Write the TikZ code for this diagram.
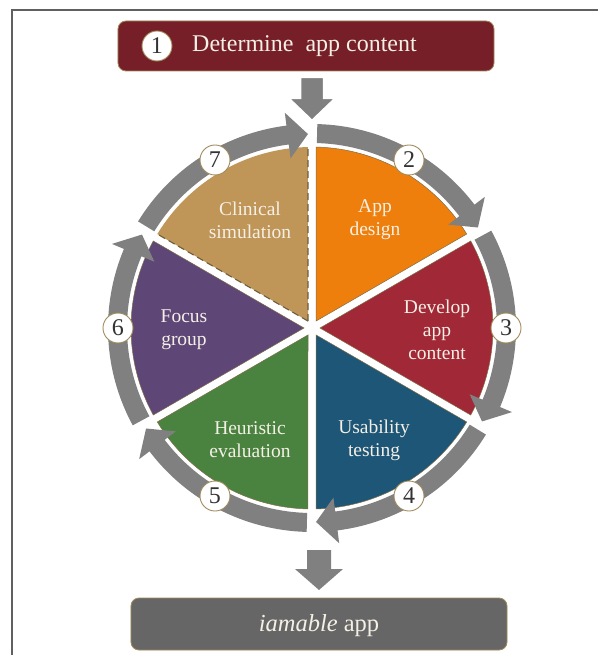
\documentclass[tikz,border=0pt]{standalone}
\usepackage{fontspec}
\setmainfont{Liberation Serif}
\begin{document}
\definecolor{ringgray}{HTML}{808080}
\definecolor{boxred}{HTML}{761F28}
\definecolor{boxgray}{HTML}{666666}
\definecolor{edgetan}{HTML}{A08A5A}
\definecolor{wOrange}{HTML}{EE7F0C}
\definecolor{wRed}{HTML}{A12836}
\definecolor{wBlue}{HTML}{1D5677}
\definecolor{wGreen}{HTML}{4A8340}
\definecolor{wPurple}{HTML}{5E4677}
\definecolor{wTan}{HTML}{C09558}
\definecolor{dashcol}{HTML}{6B5E3E}
\definecolor{labelcol}{HTML}{F5F0E6}
\definecolor{framecol}{HTML}{606060}
% ring arrow: start angle #1, tip angle #2 (clockwise)
\newcommand{\ringarrow}[2]{%
  \pgfmathsetmacro{\hd}{#2+6}%
  \fill[ringgray] (#1:204pt) arc[start angle=#1, end angle=\hd, radius=204pt]
    -- (\hd:217pt) -- (#2:194pt) -- (\hd:171pt) -- (\hd:185pt)
    arc[start angle=\hd, end angle=#1, radius=185pt] -- cycle;}
% wedge between spoke angles #1 (upper) and #2 (lower)
\newcommand{\wedgepath}[2]{%
  ({(#1+#2)/2}:8pt) -- ({#1-1.27}:181pt)
  arc[start angle={#1-1.27}, end angle={#2+1.27}, radius=181pt] -- cycle}
\begin{tikzpicture}[x=1pt,y=1pt,
  wedge/.style={draw=edgetan!80!black, line width=0.5pt},
  numcirc/.style={circle, fill=white, draw=edgetan, line width=0.9pt,
    minimum size=30pt, inner sep=0pt, text=black!80,
    font=\fontsize{24}{24}\selectfont},
  wlabel/.style={align=center, text=labelcol,
    font=\fontsize{19.5}{23}\selectfont},
  blockbox/.style={rounded corners=8pt, draw=edgetan, line width=0.8pt,
    minimum width=376pt, inner sep=0pt}]
\useasboundingbox (-312,-327) rectangle (286,328);
% outer frame
\draw[framecol, line width=1.5pt] (-300,-327) -- (-300,318) -- (286,318);

% wedges
\fill[wOrange, wedge] \wedgepath{90}{30};
\fill[wRed, wedge] \wedgepath{30}{-30};
\fill[wBlue, wedge] \wedgepath{-30}{-90};
\fill[wGreen, wedge] \wedgepath{-90}{-150};
\fill[wPurple, wedge] \wedgepath{-150}{-210};
\fill[wTan] \wedgepath{150}{90};
\draw[dashcol, line width=1.1pt, dash pattern=on 7pt off 4pt]
  (120:8pt) -- (148.73:181pt) (120:8pt) -- (91.27:181pt);

% ring arrows
\ringarrow{88.5}{31.2}
\ringarrow{28.5}{-28.8}
\ringarrow{-31.5}{-88.8}
\ringarrow{-91.5}{-148.8}
\ringarrow{-151.5}{-208.8}
\ringarrow{-211.5}{-268.8}

% step numbers
\node[numcirc] (n2) at (60:194pt) {2};
\node[numcirc] (n3) at (0:194pt) {3};
\node[numcirc] (n4) at (-60:194pt) {4};
\node[numcirc] (n5) at (-120:194pt) {5};
\node[numcirc] (n6) at (180:194pt) {6};
\node[numcirc] (n7) at (120:194pt) {7};

% wedge labels
\node[wlabel] (clin) at (-62,108) {Clinical\\simulation};
\node[wlabel] (design) at (63,108) {App\\design};
\node[wlabel] (develop) at (125,-2) {Develop\\app\\content};
\node[wlabel] (usab) at (62,-112) {Usability\\testing};
\node[wlabel] (heur) at (-62,-112) {Heuristic\\evaluation};
\node[wlabel] (focus) at (-128,-2) {Focus\\group};

% top box
\node[blockbox, fill=boxred, minimum height=50pt] (top) at (-6,282) {};
\node[numcirc] (n1) at (-155,282) {1};
\node[anchor=west, text=labelcol, font=\fontsize{24}{24}\selectfont, inner sep=0pt]
  (toptext) at (-120,282) {Determine\ \ app content};
% arrow into the cycle
\filldraw[ringgray, draw=white, line width=2.5pt, line join=miter]
  (-12,251) -- (12,251) -- (12,230) -- (24,230) -- (0,207) -- (-24,230) -- (-12,230) -- cycle;

% bottom box
\node[blockbox, fill=boxgray, minimum height=52pt] (bottom) at (7,-296) {};
\node[text=labelcol, font=\fontsize{24.5}{24.5}\selectfont] (bottext) at (7,-298)
  {\textit{iamable} app};
% arrow out of the cycle
\fill[ringgray] (-5,-222) -- (19,-222) -- (19,-241) -- (31,-241) -- (7,-262)
  -- (-17,-241) -- (-5,-241) -- cycle;
\end{tikzpicture}
\end{document}
